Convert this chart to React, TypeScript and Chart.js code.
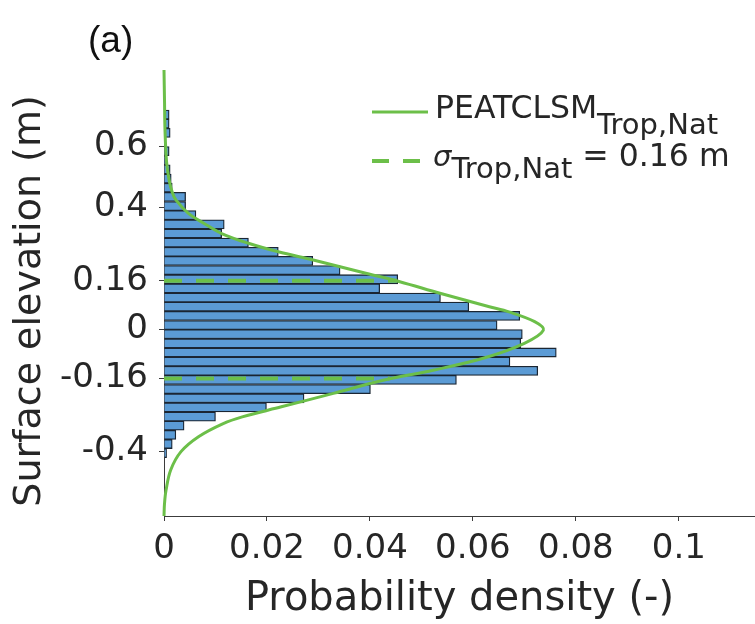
import React, { useEffect, useRef } from 'react';
import { Chart, registerables } from 'chart.js';

Chart.register(...registerables);

// Histogram: bin centres (m) and probability per bin
const binCenters = [
  -0.405, -0.375, -0.345, -0.315, -0.285, -0.255, -0.225, -0.195, -0.165, -0.135,
  -0.105, -0.075, -0.045, -0.015, 0.015, 0.045, 0.075, 0.105, 0.135, 0.165,
  0.195, 0.225, 0.255, 0.285, 0.315, 0.345, 0.375, 0.405, 0.435, 0.465,
  0.495, 0.525, 0.555, 0.585, 0.615, 0.645, 0.675, 0.705,
];
const binDensity = [
  0.0005, 0.0016, 0.0023, 0.0039, 0.0100, 0.0199, 0.0272, 0.0401, 0.0568, 0.0726,
  0.0672, 0.0762, 0.0693, 0.0696, 0.0647, 0.0691, 0.0592, 0.0537, 0.0419, 0.0454,
  0.0342, 0.0289, 0.0222, 0.0164, 0.0112, 0.0117, 0.0062, 0.0042, 0.0042, 0.0016,
  0.0014, 0.0012, 0.0003, 0.0010, 0.0000, 0.0012, 0.0010, 0.0010,
];

// PEATCLSM curve
const curveElevation = [
  -0.611, -0.57, -0.526, -0.46, -0.40, -0.351, -0.308, -0.286, -0.253, -0.209,
  -0.166, -0.133, -0.094, -0.045, -0.002, 0.026, 0.058, 0.075, 0.119, 0.157,
  0.184, 0.228, 0.255, 0.283, 0.315, 0.348, 0.38, 0.425, 0.45, 0.49,
  0.55, 0.65, 0.75, 0.851,
];
const curveDensity = [
  0.0, 0.0001, 0.0004, 0.0013, 0.0033, 0.0067, 0.0115, 0.0152, 0.0228, 0.0329,
  0.0426, 0.0523, 0.0620, 0.0700, 0.0737, 0.0720, 0.0670, 0.0632, 0.0536, 0.0458,
  0.0394, 0.0290, 0.0222, 0.0164, 0.0112, 0.0078, 0.0048, 0.0023, 0.0016, 0.0010,
  0.0005, 0.0002, 0.0001, 0.0,
];

const sigma = 0.16;
const sigmaLineEnds = [0.0452, 0.0438];

const xTickValues = [0, 0.02, 0.04, 0.06, 0.08, 0.1];
const xTickLabels = ['0', '0.02', '0.04', '0.06', '0.08', '0.1'];
const yTickValues = [-0.4, -0.16, 0, 0.16, 0.4, 0.6];
const yTickLabels = ['-0.4', '-0.16', '0', '0.16', '0.4', '0.6'];

const FONT = '"DejaVu Sans", sans-serif';
const GREEN = '#6cbf49';
const BAR = '#5b9bd5';
const EDGE = '#1b2633';
const AXIS = '#3c3c3c';
const TEXT = '#262626';

const overlayPlugin = {
  id: 'overlay',
  afterDraw(chart: any) {
    const ctx = chart.ctx;
    ctx.save();
    ctx.fillStyle = '#111';
    ctx.textBaseline = 'alphabetic';
    ctx.textAlign = 'left';
    // panel label
    ctx.font = '37px "Liberation Sans", Arial, sans-serif';
    ctx.fillText('(a)', 88, 52);

    // y axis title
    ctx.save();
    ctx.fillStyle = TEXT;
    ctx.translate(30, 301);
    ctx.rotate(-Math.PI / 2);
    ctx.textAlign = 'center';
    ctx.textBaseline = 'middle';
    ctx.font = `38px ${FONT}`;
    ctx.fillText('Surface elevation (m)', 0, 0);
    ctx.restore();

    // legend
    ctx.strokeStyle = GREEN;
    ctx.lineWidth = 3;
    ctx.setLineDash([]);
    ctx.beginPath();
    ctx.moveTo(372, 112);
    ctx.lineTo(428, 112);
    ctx.stroke();
    ctx.lineWidth = 4;
    ctx.setLineDash([17, 14]);
    ctx.beginPath();
    ctx.moveTo(372, 161);
    ctx.lineTo(425, 161);
    ctx.stroke();
    ctx.setLineDash([]);

    ctx.fillStyle = TEXT;
    ctx.font = `31.5px ${FONT}`;
    ctx.fillText('PEATCLSM', 435, 118);
    let w = ctx.measureText('PEATCLSM').width;
    ctx.font = `29px ${FONT}`;
    ctx.fillText('Trop,Nat', 435 + w, 134);

    ctx.font = `italic 29px ${FONT}`;
    ctx.fillText('σ', 433, 166);
    w = ctx.measureText('σ').width;
    ctx.font = `29px ${FONT}`;
    ctx.fillText('Trop,Nat', 433 + w, 178);
    const w2 = ctx.measureText('Trop,Nat').width;
    ctx.font = `31.5px ${FONT}`;
    ctx.fillText(' = 0.16 m', 433 + w + w2, 166);
    ctx.restore();
  },
};

export default function App() {
  const canvasRef = useRef<HTMLCanvasElement | null>(null);

  useEffect(() => {
    if (!canvasRef.current) return;
    const chart = new Chart(canvasRef.current, {
      type: 'bar',
      data: {
        datasets: [
          {
            type: 'line',
            data: curveElevation.map((y, i) => ({ x: curveDensity[i], y })),
            borderColor: GREEN,
            borderWidth: 3,
            pointRadius: 0,
            fill: false,
            tension: 0.35,
            clip: 8,
            order: 1,
          } as any,
          {
            type: 'line',
            data: [
              { x: 0, y: sigma },
              { x: sigmaLineEnds[0], y: sigma },
            ],
            borderColor: GREEN,
            borderWidth: 4,
            borderDash: [18, 14],
            pointRadius: 0,
            fill: false,
            order: 2,
          } as any,
          {
            type: 'line',
            data: [
              { x: 0, y: -sigma },
              { x: sigmaLineEnds[1], y: -sigma },
            ],
            borderColor: GREEN,
            borderWidth: 4,
            borderDash: [18, 14],
            pointRadius: 0,
            fill: false,
            order: 2,
          } as any,
          {
            type: 'bar',
            data: binCenters.map((y, i) => ({ x: binDensity[i], y })),
            backgroundColor: BAR,
            borderColor: EDGE,
            borderWidth: 1.3,
            barPercentage: 1,
            categoryPercentage: 1,
            order: 5,
          } as any,
        ],
      },
      options: {
        indexAxis: 'y',
        animation: false,
        responsive: true,
        maintainAspectRatio: false,
        layout: { padding: { top: 70, left: 0, right: 0, bottom: 0 } },
        plugins: {
          legend: { display: false },
          tooltip: { enabled: false },
        },
        scales: {
          x: {
            type: 'linear',
            position: 'bottom',
            min: 0,
            max: 0.1148,
            offset: false,
            afterBuildTicks: (s: any) => {
              s.ticks = xTickValues.map((v) => ({ value: v }));
            },
            afterFit: (s: any) => {
              s.height = 108;
            },
            ticks: {
              callback: (_v: any, i: number) => xTickLabels[i],
              font: { family: FONT, size: 34 },
              color: TEXT,
              padding: 8,
              maxRotation: 0,
              autoSkip: false,
            },
            grid: { drawOnChartArea: false, drawTicks: true, tickLength: 5, color: AXIS, offset: false },
            border: { display: true, color: AXIS, width: 1 },
            title: {
              display: true,
              text: 'Probability density (-)',
              font: { family: FONT, size: 40 },
              color: TEXT,
              padding: { top: 0, bottom: 0 },
            },
          },
          y: {
            type: 'linear',
            position: 'left',
            min: -0.611,
            max: 0.851,
            offset: false,
            afterBuildTicks: (s: any) => {
              s.ticks = yTickValues.map((v) => ({ value: v }));
            },
            afterFit: (s: any) => {
              s.width = 164;
            },
            ticks: {
              callback: (_v: any, i: number) => yTickLabels[i],
              font: { family: FONT, size: 34 },
              color: TEXT,
              padding: 11,
              autoSkip: false,
            },
            grid: { drawOnChartArea: false, drawTicks: true, tickLength: 5, color: AXIS, offset: false },
            border: { display: true, color: AXIS, width: 1 },
            title: { display: false },
          },
        },
      } as any,
      plugins: [overlayPlugin],
    });
    return () => chart.destroy();
  }, []);

  return (
    <div style={{ position: 'absolute', left: 0, top: 0, width: 755, height: 624, background: '#fff' }}>
      <canvas ref={canvasRef} />
    </div>
  );
}
